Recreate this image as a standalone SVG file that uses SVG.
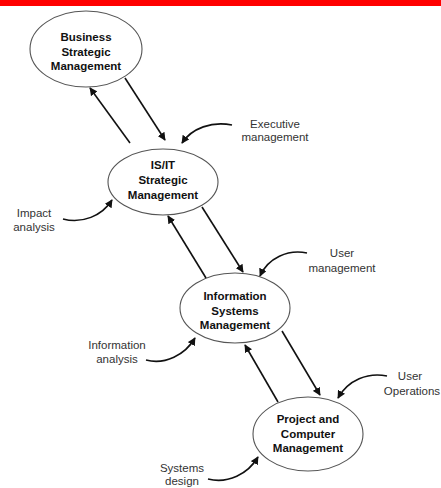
<svg xmlns="http://www.w3.org/2000/svg" width="441" height="488" viewBox="0 0 441 488">
<style>
.node{fill:#fff;stroke:#555;stroke-width:1.1}
.nt{font-family:"Liberation Sans",Arial,sans-serif;font-size:11.5px;font-weight:bold;fill:#111;text-anchor:middle}
.lt{font-family:"Liberation Sans",Arial,sans-serif;font-size:11.5px;fill:#333;text-anchor:middle}
.arr{fill:none;stroke:#111;stroke-width:1.6;marker-end:url(#ah)}
</style>
<defs>
<marker id="ah" viewBox="0 0 10 10" refX="9" refY="5" markerWidth="5" markerHeight="5" orient="auto" markerUnits="strokeWidth">
<path d="M0,0 L10,5 L0,10 z" fill="#111"/>
</marker>
</defs>
<rect x="0" y="0" width="441" height="6" fill="#ff0000"/>
<g id="n-business">
<ellipse class="node" cx="86" cy="49" rx="56" ry="38"/>
<text class="nt" x="86" y="41">Business</text>
<text class="nt" x="86" y="56">Strategic</text>
<text class="nt" x="86" y="70">Management</text>
</g>
<g id="n-isit">
<ellipse class="node" cx="163" cy="182" rx="55" ry="33"/>
<text class="nt" x="163" y="169">IS/IT</text>
<text class="nt" x="163" y="184">Strategic</text>
<text class="nt" x="163" y="199">Management</text>
</g>
<g id="n-ism">
<ellipse class="node" cx="235" cy="308" rx="55" ry="35"/>
<text class="nt" x="235" y="300">Information</text>
<text class="nt" x="235" y="315">Systems</text>
<text class="nt" x="235" y="329">Management</text>
</g>
<g id="n-pcm">
<ellipse class="node" cx="308" cy="434" rx="55" ry="37"/>
<text class="nt" x="308" y="423">Project and</text>
<text class="nt" x="308" y="438">Computer</text>
<text class="nt" x="308" y="452">Management</text>
</g>
<g id="labels">
<text class="lt" x="275" y="128">Executive</text>
<text class="lt" x="275" y="141">management</text>
<text class="lt" x="34" y="217">Impact</text>
<text class="lt" x="34" y="231">analysis</text>
<text class="lt" x="342" y="257">User</text>
<text class="lt" x="342" y="272">management</text>
<text class="lt" x="117" y="349">Information</text>
<text class="lt" x="117" y="363">analysis</text>
<text class="lt" x="410" y="380">User</text>
<text class="lt" x="412" y="395">Operations</text>
<text class="lt" x="182" y="472">Systems</text>
<text class="lt" x="182" y="485">design</text>
</g>
<g id="connectors">
<path class="arr" d="M130,143 L90,88"/>
<path class="arr" d="M125,78 L165,140"/>
<path class="arr" d="M206,278 L168,216"/>
<path class="arr" d="M202,207 L243,272"/>
<path class="arr" d="M278,402 L245,345"/>
<path class="arr" d="M282,331 L320,395"/>
<path class="arr" d="M232,125 C212,121 192,128 182,143"/>
<path class="arr" d="M63,219 C82,224 102,216 112,200"/>
<path class="arr" d="M307,253 C288,249 268,258 260,276"/>
<path class="arr" d="M146,360 C165,365 185,355 195,338"/>
<path class="arr" d="M387,376 C368,372 348,380 338,398"/>
<path class="arr" d="M208,479 C228,484 248,474 258,457"/>
</g>
</svg>
